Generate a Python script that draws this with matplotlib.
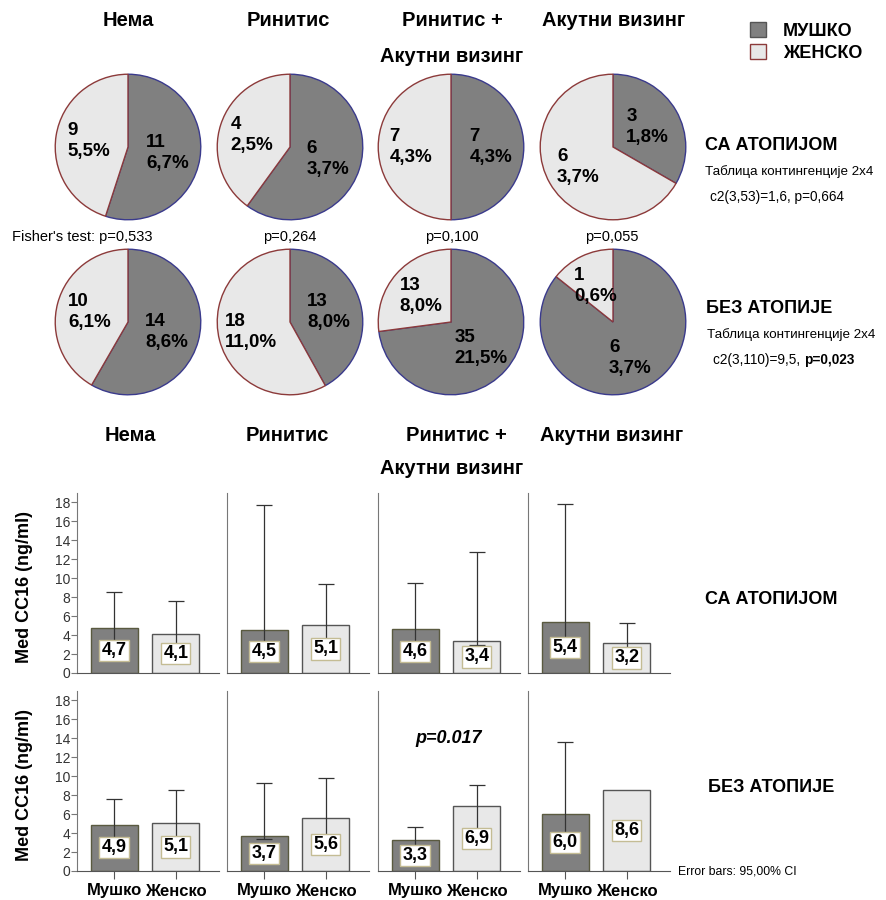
import numpy as np
import matplotlib
matplotlib.use("Agg")
import matplotlib.pyplot as plt
from matplotlib.patches import Patch

plt.rcParams['font.family'] = ['Liberation Sans', 'DejaVu Sans']

# ---------------- DATA ---------------- #
groups = ["Нема", "Ринитис", "Ринитис +\nАкутни визинг", "Акутни визинг"]
sexes = ["Мушко", "Женско"]
legend_labels = ["МУШКО", "ЖЕНСКО"]

# pie counts (male, female) and percent labels
atop_m = [11, 6, 7, 3]
atop_f = [9, 4, 7, 6]
atop_m_pct = ["6,7%", "3,7%", "4,3%", "1,8%"]
atop_f_pct = ["5,5%", "2,5%", "4,3%", "3,7%"]
noatop_m = [14, 13, 35, 6]
noatop_f = [10, 18, 13, 1]
noatop_m_pct = ["8,6%", "8,0%", "21,5%", "3,7%"]
noatop_f_pct = ["6,1%", "11,0%", "8,0%", "0,6%"]
fisher_p = ["Fisher's test: p=0,533", "p=0,264", "p=0,100", "p=0,055"]

# bar means and 95% CI
top_m = [4.7, 4.5, 4.6, 5.4]
top_f = [4.1, 5.1, 3.4, 3.2]
top_m_hi = [8.5, 17.7, 9.5, 17.8]
top_f_hi = [7.6, 9.4, 12.8, 5.3]
top_m_lo = [2.0, 2.5, 2.5, 3.0]
top_f_lo = [2.0, 2.3, 3.0, 2.2]
bot_m = [4.9, 3.7, 3.3, 6.0]
bot_f = [5.1, 5.6, 6.9, 8.6]
bot_m_hi = [7.6, 9.3, 4.6, 13.6]
bot_f_hi = [8.6, 9.8, 9.1, np.nan]
bot_m_lo = [2.5, 3.4, 2.0, 2.5]
bot_f_lo = [2.5, 3.5, 3.8, np.nan]

DARK = "#808080"
LIGHT = "#e8e8e8"
W, H = 887, 900

fig = plt.figure(figsize=(W / 100, H / 100), dpi=100)


def px_axes(x0, y0, w, h):
    return fig.add_axes([x0 / W, 1 - (y0 + h) / H, w / W, h / H])


def ftext(x, y, s, **kw):
    return fig.text(x / W, 1 - y / H, s, **kw)


# ---------------- PIES ---------------- #
pie_cx = [128, 290, 451, 613]
pie_rows = [(147, atop_m, atop_f, atop_m_pct, atop_f_pct),
            (322, noatop_m, noatop_f, noatop_m_pct, noatop_f_pct)]
R = 73.5
for cy, mv, fv, mp, fp in pie_rows:
    for i, cx in enumerate(pie_cx):
        ax = px_axes(cx - R, cy - R, 2 * R, 2 * R)
        wedges, _ = ax.pie([mv[i], fv[i]], colors=[DARK, LIGHT], startangle=90,
                           counterclock=False, radius=1,
                           wedgeprops=dict(linewidth=1.0))
        wedges[0].set_edgecolor("#3a3a8c")
        wedges[1].set_edgecolor("#8c3a3a")
        for wdg, n, p in zip(wedges, [mv[i], fv[i]], [mp[i], fp[i]]):
            ang = np.deg2rad((wdg.theta1 + wdg.theta2) / 2)
            ax.text(0.55 * np.cos(ang), 0.55 * np.sin(ang), f"{n}\n{p}",
                    ha="center", va="center", multialignment="left",
                    fontsize=13.5, fontweight="bold", linespacing=1.3)
        ax.set_xlim(-1.01, 1.01)
        ax.set_ylim(-1.01, 1.01)

# headers
head_x = [128, 288, 452, 614]
for x, g in zip(head_x, groups):
    for k, ln in enumerate(g.split("\n")):
        ftext(x, 20 + 37 * k, ln, ha="center", va="center", fontsize=14.5,
              fontweight="bold")
bar_head_x = [130, 287, 456, 612]
for x, g in zip(bar_head_x, groups):
    for k, ln in enumerate(g.split("\n")):
        xx = x if k == 0 else 452
        ftext(xx, 435 + 33 * k, ln, ha="center", va="center", fontsize=14.5,
              fontweight="bold")

# fisher line
ftext(12, 237, fisher_p[0], ha="left", va="center", fontsize=10.5)
for x, s in zip([290, 452, 612], fisher_p[1:]):
    ftext(x, 237, s, ha="center", va="center", fontsize=10.5)

# legend
fig.legend(handles=[Patch(facecolor=DARK, edgecolor="#555555"),
                    Patch(facecolor=LIGHT, edgecolor="#8c3a3a")],
           labels=legend_labels, loc="upper left",
           bbox_to_anchor=(734 / W, 1 - 6 / H), frameon=False,
           prop=dict(size=13, weight="bold"), handlelength=0.9,
           handleheight=0.9, labelspacing=0.25, handletextpad=0.9)

# right side texts
ftext(705, 146, "СА АТОПИЈОМ", ha="left", va="center", fontsize=13, fontweight="bold")
ftext(705, 172, "Таблица контингенције 2x4", ha="left", va="center", fontsize=9.6)
ftext(710, 197, "c2(3,53)=1,6, p=0,664", ha="left", va="center", fontsize=9.8)
ftext(706, 309, "БЕЗ АТОПИЈЕ", ha="left", va="center", fontsize=13, fontweight="bold")
ftext(707, 335, "Таблица контингенције 2x4", ha="left", va="center", fontsize=9.6)
t1 = ftext(713, 360, "c2(3,110)=9,5, ", ha="left", va="center", fontsize=9.8)
fig.canvas.draw()
bb = t1.get_window_extent(fig.canvas.get_renderer())
fig.text(bb.x1 / W, 1 - 360 / H, "p=0,023", ha="left", va="center", fontsize=9.8,
         fontweight="bold")

# ---------------- BARS ---------------- #
panel_x = [77, 227, 378, 528]
rows = [(493, top_m, top_f, top_m_lo, top_m_hi, top_f_lo, top_f_hi, False),
        (691, bot_m, bot_f, bot_m_lo, bot_m_hi, bot_f_lo, bot_f_hi, True)]
xpos = np.array([0, 1])
for y0, mv, fv, mlo, mhi, flo, fhi, bottom in rows:
    for i, x0 in enumerate(panel_x):
        ax = px_axes(x0, y0, 142, 180)
        vals = [mv[i], fv[i]]
        ax.bar(xpos, vals, width=0.76, color=[DARK, LIGHT],
               edgecolor=["#5a5a40", "#555555"], linewidth=1.0, zorder=1)
        lo = np.array([mlo[i], flo[i]])
        hi = np.array([mhi[i], fhi[i]])
        ok = ~np.isnan(hi)
        v = np.array(vals)
        ax.errorbar(xpos[ok], v[ok], yerr=[v[ok] - lo[ok], hi[ok] - v[ok]],
                    fmt="none", ecolor="#333333", elinewidth=0.9, capsize=6,
                    capthick=0.9, zorder=2)
        for xp, val in zip(xpos, vals):
            ax.text(xp, val / 2, f"{val:.1f}".replace(".", ","), ha="center",
                    va="center", fontsize=13, fontweight="bold", zorder=3,
                    bbox=dict(boxstyle="square,pad=0.12", facecolor="white",
                              edgecolor="#c4bc94", linewidth=1))
        ax.set_xlim(-0.6, 1.7)
        ax.set_ylim(0, 19)
        for s in ["top", "right"]:
            ax.spines[s].set_visible(False)
        ax.spines["left"].set_color("#777777")
        ax.spines["bottom"].set_color("#555555")
        if i == 0:
            ax.set_yticks(range(0, 19, 2))
            ax.tick_params(axis="y", length=4, color="#777777", labelsize=10,
                           labelcolor="#333333", pad=1)
        else:
            ax.set_yticks([])
        if bottom:
            ax.set_xticks(xpos)
            ax.set_xticklabels(sexes, fontsize=12, fontweight="bold")
            ax.tick_params(axis="x", length=6, color="#555555", pad=3)
        else:
            ax.set_xticks([])
        ax.patch.set_alpha(0)
        if bottom and i == 2:
            ax.text(0.55, 14.0, "p=0.017", ha="center", va="center", fontsize=13,
                    fontweight="bold", fontstyle="italic")
    ftext(25, y0 + 94, "Med CC16 (ng/ml)", rotation=90, ha="center", va="center",
          fontsize=13, fontweight="bold")

ftext(705, 600, "СА АТОПИЈОМ", ha="left", va="center", fontsize=13, fontweight="bold")
ftext(708, 788, "БЕЗ АТОПИЈЕ", ha="left", va="center", fontsize=13, fontweight="bold")
ftext(678, 872, "Error bars: 95,00% CI", ha="left", va="center", fontsize=8.8)

fig.savefig("out.png", dpi=100)
